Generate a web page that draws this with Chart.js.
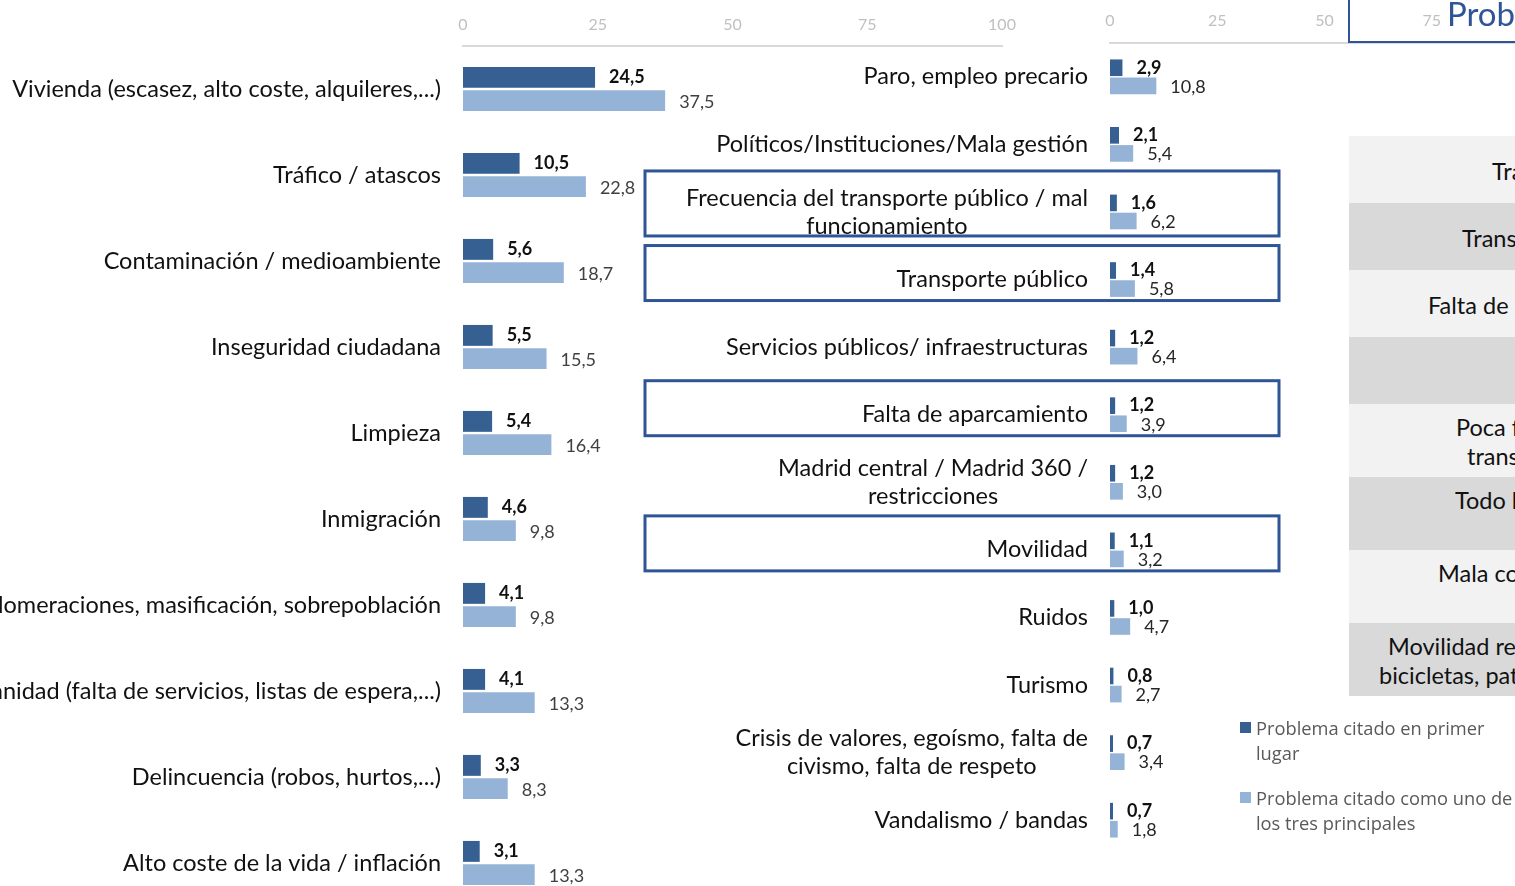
<!DOCTYPE html>
<html>
<head>
<meta charset="utf-8">
<script src="https://cdn.jsdelivr.net/npm/chart.js@4.4.0/dist/chart.umd.min.js"></script>
<style>
  html, body { margin: 0; padding: 0; width: 1515px; height: 886px; overflow: hidden; background: #fff; }
  body { position: relative; font-family: Lato, "Noto Sans", sans-serif; }
  canvas { position: absolute; top: 0; }
  #leftChart { left: 0; }
  #rightChart { left: 600px; }
  .over { position: absolute; z-index: 5; white-space: nowrap; }
  .head { left: 1348px; top: -5px; width: 300px; height: 48px; box-sizing: border-box;
          border-left: 2.5px solid #2f5597; border-bottom: 2.5px solid #2f5597; }
  .headText { left: 1447px; top: -6px; font-size: 33px; color: #2f5597; line-height: 38px; }
  .row { left: 1349px; width: 200px; }
  .cell { font-size: 23.5px; color: #111; line-height: 29px; }
  .legend { font-family: "Open Sans", sans-serif; font-size: 18.3px; color: #595959; line-height: 25px; left: 1256px; }
  .sw { width: 11px; height: 11px; left: 1240px; }
</style>
</head>
<body>
<canvas id="leftChart" width="1060" height="906"></canvas>
<canvas id="rightChart" width="966" height="870"></canvas>

<div class="over head"></div>
<div class="over headText">Problemas de movilidad</div>

<div class="over row" style="top:136px;height:67px;background:#f2f2f2"></div>
<div class="over row" style="top:203px;height:67px;background:#d9d9d9"></div>
<div class="over row" style="top:270px;height:67px;background:#f2f2f2"></div>
<div class="over row" style="top:337px;height:67px;background:#d9d9d9"></div>
<div class="over row" style="top:404px;height:73px;background:#f2f2f2"></div>
<div class="over row" style="top:477px;height:73px;background:#d9d9d9"></div>
<div class="over row" style="top:550px;height:73px;background:#f2f2f2"></div>
<div class="over row" style="top:623px;height:73px;background:#d9d9d9"></div>

<div class="over cell" style="left:1492px;top:157px">Tráfico</div>
<div class="over cell" style="left:1462px;top:224px">Transporte público</div>
<div class="over cell" style="left:1428px;top:291px">Falta de aparcamiento</div>
<div class="over cell" style="left:1456px;top:413px">Poca frecuencia del</div>
<div class="over cell" style="left:1467px;top:442px">transporte público</div>
<div class="over cell" style="left:1455px;top:486px">Todo lo relacionado</div>
<div class="over cell" style="left:1438px;top:559px">Mala conexión</div>
<div class="over cell" style="left:1388px;top:632px">Movilidad reducida /</div>
<div class="over cell" style="left:1379px;top:661px">bicicletas, patinetes</div>

<div id="legendBox"></div>

<script>
// categorias y valores (%)
const leftCategories = [
  "Vivienda (escasez, alto coste, alquileres,...)",
  "Tráfico / atascos",
  "Contaminación / medioambiente",
  "Inseguridad ciudadana",
  "Limpieza",
  "Inmigración",
  "Aglomeraciones, masificación, sobrepoblación",
  "Sanidad (falta de servicios, listas de espera,...)",
  "Delincuencia (robos, hurtos,...)",
  "Alto coste de la vida / inflación"
];
const leftFirst = [24.5, 10.5, 5.6, 5.5, 5.4, 4.6, 4.1, 4.1, 3.3, 3.1];
const leftTop3 = [37.5, 22.8, 18.7, 15.5, 16.4, 9.8, 9.8, 13.3, 8.3, 13.3];

const rightCategories = [
  "Paro, empleo precario",
  "Políticos/Instituciones/Mala gestión",
  ["Frecuencia del transporte público / mal", "funcionamiento"],
  "Transporte público",
  "Servicios públicos/ infraestructuras",
  "Falta de aparcamiento",
  ["Madrid central / Madrid 360 /", "restricciones"],
  "Movilidad",
  "Ruidos",
  "Turismo",
  ["Crisis de valores, egoísmo, falta de", "civismo, falta de respeto"],
  "Vandalismo / bandas"
];
const rightFirst = [2.9, 2.1, 1.6, 1.4, 1.2, 1.2, 1.2, 1.1, 1.0, 0.8, 0.7, 0.7];
const rightTop3 = [10.8, 5.4, 6.2, 5.8, 6.4, 3.9, 3.0, 3.2, 4.7, 2.7, 3.4, 1.8];

// categorias recuadradas (movilidad)
const highlighted = [2, 3, 5, 7];

const axisTicks = [0, 25, 50, 75, 100];
const seriesNames = ["Problema citado en primer lugar", "Problema citado como uno de los tres principales"];
const seriesColors = ["#365f92", "#95b3d7"];

const fmt = v => v.toFixed(1).replace(".", ",");

// etiquetas de categoria a la izquierda del eje
const categoryLabels = {
  id: "categoryLabels",
  afterDraw(chart, args, opts) {
    const { ctx, chartArea } = chart;
    const y = chart.scales.y;
    ctx.save();
    ctx.font = opts.font;
    ctx.fillStyle = opts.color;
    ctx.textBaseline = "middle";
    ctx.textAlign = "center";
    chart.data.labels.forEach((lab, i) => {
      const lines = Array.isArray(lab) ? lab : [lab];
      const w = Math.max(...lines.map(l => ctx.measureText(l).width));
      const cx = chartArea.left - opts.gap - w / 2;
      const cy = y.getPixelForValue(i);
      lines.forEach((l, j) => {
        ctx.fillText(l, cx, cy + (j - (lines.length - 1) / 2) * opts.lineHeight);
      });
    });
    ctx.restore();
  }
};

// valores al final de cada barra
const valueLabels = {
  id: "valueLabels",
  afterDatasetsDraw(chart, args, opts) {
    const { ctx } = chart;
    ctx.save();
    ctx.textAlign = "left";
    ctx.textBaseline = "middle";
    chart.data.datasets.forEach((ds, di) => {
      const meta = chart.getDatasetMeta(di);
      ctx.font = opts.fonts[di];
      ctx.fillStyle = opts.colors[di];
      meta.data.forEach((bar, i) => {
        ctx.fillText(fmt(ds.data[i]), bar.x + opts.offset, bar.y + opts.dy[di]);
      });
    });
    ctx.restore();
  }
};

const highlightBoxes = {
  id: "highlightBoxes",
  afterDraw(chart, args, opts) {
    const { ctx, chartArea } = chart;
    const y = chart.scales.y;
    ctx.save();
    ctx.strokeStyle = opts.color;
    ctx.lineWidth = opts.width;
    chart.data.labels.forEach((lab, i) => {
      if (!opts.indices.includes(i)) return;
      const twoLines = Array.isArray(lab);
      const cy = y.getPixelForValue(i);
      const top = cy - (twoLines ? 41 : 34);
      const bottom = cy + (twoLines ? 24 : 21);
      ctx.strokeRect(chartArea.left - 465, top, 634, bottom - top);
    });
    ctx.restore();
  }
};

function buildChart(id, labels, first, top3, cfg) {
  return new Chart(document.getElementById(id), {
    type: "bar",
    data: {
      labels: labels,
      datasets: [
        { label: seriesNames[0], data: first, backgroundColor: seriesColors[0] },
        { label: seriesNames[1], data: top3, backgroundColor: seriesColors[1] }
      ]
    },
    options: {
      indexAxis: "y",
      responsive: false,
      animation: false,
      devicePixelRatio: 1,
      layout: { padding: { left: cfg.padLeft, right: cfg.padRight, top: 0, bottom: cfg.padBottom } },
      datasets: { bar: { categoryPercentage: cfg.catPct, barPercentage: cfg.barPct } },
      scales: {
        x: {
          position: "top",
          min: 0,
          max: 100,
          afterFit: s => { s.height = cfg.axisH; },
          afterBuildTicks: s => { s.ticks = axisTicks.map(v => ({ value: v })); },
          ticks: { font: { family: "Lato", size: 16 }, color: "#c0c0c0", padding: cfg.tickPad },
          grid: { display: false, drawTicks: false },
          border: { display: true, color: "#d9d9d9", width: 2 }
        },
        y: { display: false }
      },
      plugins: {
        legend: { display: false },
        tooltip: { enabled: false },
        categoryLabels: { font: "23.5px Lato", color: "#111", gap: 22, lineHeight: 28 },
        valueLabels: {
          fonts: ["bold 18px Lato", "18px Lato"],
          colors: ["#111", cfg.lightLabel],
          offset: 14,
          dy: cfg.dy
        },
        highlightBoxes: { color: "#2f5597", width: 3, indices: highlighted }
      }
    },
    plugins: cfg.boxes ? [categoryLabels, valueLabels, highlightBoxes] : [categoryLabels, valueLabels]
  });
}

buildChart("leftChart", leftCategories, leftFirst, leftTop3, {
  padLeft: 463, padRight: 58, padBottom: 0, axisH: 46, tickPad: 12,
  catPct: 0.54, barPct: 0.9, lightLabel: "#404040", dy: [0, 2], boxes: false
});

buildChart("rightChart", rightCategories, rightFirst, rightTop3, {
  padLeft: 510, padRight: 20, padBottom: 16, axisH: 43, tickPad: 13,
  catPct: 0.535, barPct: 0.92, lightLabel: "#262626", dy: [0, 1], boxes: true
});

// leyenda
const legendBox = document.getElementById("legendBox");
const legendLines = [["Problema citado en primer", "lugar"], ["Problema citado como uno de", "los tres principales"]];
[722, 792].forEach((top, i) => {
  const sw = document.createElement("div");
  sw.className = "over sw";
  sw.style.top = top + "px";
  sw.style.background = seriesColors[i];
  legendBox.appendChild(sw);
  const tx = document.createElement("div");
  tx.className = "over legend";
  tx.style.top = (top - 7) + "px";
  tx.innerHTML = legendLines[i].join("<br>");
  legendBox.appendChild(tx);
});
</script>
</body>
</html>
